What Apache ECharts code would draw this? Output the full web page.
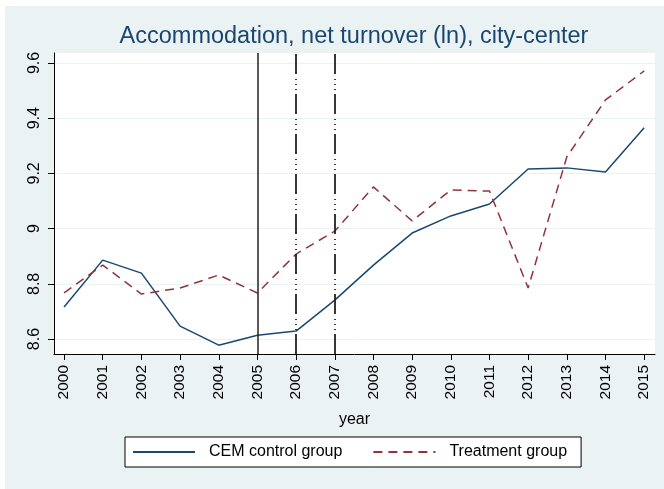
<!DOCTYPE html>
<html>
<head>
<meta charset="utf-8">
<script src="https://cdn.jsdelivr.net/npm/echarts@6/dist/echarts.min.js"></script>
<style>
  html, body { margin: 0; padding: 0; background: #fff; }
  #chart { width: 664px; height: 489px; }
</style>
</head>
<body>
<div id="chart"></div>
<script>
// 数据
const years = [2000, 2001, 2002, 2003, 2004, 2005, 2006, 2007, 2008, 2009, 2010, 2011, 2012, 2013, 2014, 2015]
const cemControl = [8.716, 8.886, 8.839, 8.647, 8.578, 8.614, 8.629, 8.741, 8.868, 8.984, 9.046, 9.089, 9.216, 9.220, 9.205, 9.365]
const treatment = [8.767, 8.868, 8.763, 8.785, 8.832, 8.767, 8.908, 8.991, 9.151, 9.028, 9.140, 9.136, 8.785, 9.260, 9.466, 9.571]
const yTicks = [8.6, 8.8, 9, 9.2, 9.4, 9.6]
const solidLineYear = [2005]
const dashDotYears = [2006, 2007]

const font = '"Liberation Sans", Arial, sans-serif'
const navy = '#1a476f'
const maroon = '#90353b'

function pairs(values) {
    let out = new Array
    for (let i = 0; i < years.length; i++) {
        out.push([years[i], values[i]])
    }
    return out
}

let chart = echarts.init(document.getElementById('chart'))
let option = {
    backgroundColor: '#ffffff',
    animation: false,
    graphic: [
        {   // Stata 背景
            type: 'rect', z: -10, silent: true,
            shape: { x: 5, y: 6, width: 660, height: 484 },
            style: { fill: '#eaf2f3' }
        },
        {
            type: 'rect', z: -9, silent: true,
            shape: { x: 54, y: 53, width: 601, height: 301 },
            style: { fill: '#ffffff' }
        },
        {
            type: 'text', x: 354, y: 37,
            style: {
                text: 'Accommodation, net turnover (ln), city-center',
                fill: navy, font: '23.5px ' + font,
                textAlign: 'center', textVerticalAlign: 'middle'
            }
        }
    ],
    grid: { left: 54, top: 53, right: 9, bottom: 135, containLabel: false },
    legend: {
        orient: 'horizontal',
        left: 125, top: 437,
        backgroundColor: '#ffffff',
        borderColor: '#000000',
        borderWidth: 1,
        borderRadius: 0,
        padding: [7, 14, 7, 7],
        itemWidth: 62,
        itemHeight: 14,
        itemGap: 30,
        itemStyle: { opacity: 0 },
        textStyle: { fontSize: 16, fontFamily: font, color: '#000', padding: [0, 0, 0, 9] },
        data: ['CEM control group', 'Treatment group']
    },
    xAxis: {
        type: 'value',
        min: 1999.74,
        max: 2015.28,
        name: 'year',
        nameLocation: 'middle',
        nameGap: 58,
        nameTextStyle: { fontSize: 16, fontFamily: font, color: '#000' },
        axisLine: { lineStyle: { color: '#000', width: 1 } },
        axisTick: { length: 6, lineStyle: { color: '#000' }, customValues: years },
        axisLabel: {
            rotate: 90, margin: 11, fontSize: 15.5, fontFamily: font, color: '#000',
            customValues: years, formatter: v => String(v)
        },
        splitLine: { show: false }
    },
    yAxis: {
        type: 'value',
        min: 8.546,
        max: 9.636,
        axisLine: { show: true, lineStyle: { color: '#000', width: 1 } },
        axisTick: { show: true, length: 6, lineStyle: { color: '#000' }, customValues: yTicks },
        axisLabel: {
            rotate: 90, margin: 11, fontSize: 16, fontFamily: font, color: '#000',
            customValues: yTicks
        },
        splitLine: { show: true, lineStyle: { color: '#eaf2f3', width: 1 } }
    },
    series: [
        {
            name: 'CEM control group',
            type: 'line',
            data: pairs(cemControl),
            symbol: 'none',
            color: navy,
            lineStyle: { color: navy, width: 1.5 },
            z: 3,
            markLine: {
                silent: true, symbol: 'none', label: { show: false },
                lineStyle: { color: '#222', width: 1.5, type: 'solid' },
                data: solidLineYear.map(v => ({ xAxis: v }))
            }
        },
        {
            name: 'Treatment group',
            type: 'line',
            data: pairs(treatment),
            symbol: 'none',
            color: maroon,
            lineStyle: { color: maroon, width: 1.5, type: [9, 6] },
            z: 3,
            markLine: {
                silent: true, symbol: 'none', label: { show: false },
                lineStyle: { color: '#222', width: 1.8, type: [20, 4, 1, 4, 1, 4, 1, 5] },
                data: dashDotYears.map(v => ({ xAxis: v }))
            }
        }
    ]
}
chart.setOption(option)
</script>
</body>
</html>
